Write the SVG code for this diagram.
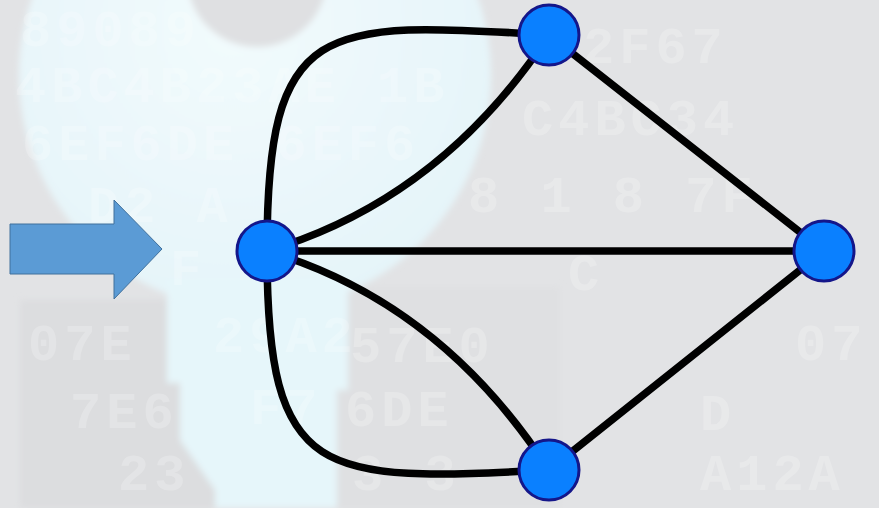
<svg xmlns="http://www.w3.org/2000/svg" width="879" height="508" viewBox="0 0 879 508">
  <defs>
    <filter id="soft" x="-10%" y="-10%" width="120%" height="120%">
      <feGaussianBlur stdDeviation="3"/>
    </filter>
    <radialGradient id="keyGlow" cx="0.45" cy="0.4" r="0.7">
      <stop offset="0" stop-color="#F2FBFD"/>
      <stop offset="1" stop-color="#E3F3F8"/>
    </radialGradient>
  </defs>
  <style>
    .hex { font-family: "Liberation Mono", "DejaVu Sans Mono", monospace; font-weight: bold; font-size: 52px; letter-spacing: 5px; fill: #FFFFFF; fill-opacity: 0.22; }
    .edge { fill: none; stroke: #000000; stroke-width: 7.5; stroke-linecap: round; }
    .node { fill: #0A80FF; stroke: #14168A; stroke-width: 3; }
    .arrow { fill: #5B9BD5; stroke: #41719C; stroke-width: 1; }
  </style>

  <!-- backdrop -->
  <rect x="0" y="0" width="879" height="508" fill="#E2E3E5"/>

  <g id="backdrop-key" filter="url(#soft)">
    <!-- slightly darker tooth blocks beside the shaft -->
    <path d="M20,300 L167,300 L167,383 L180,383 L180,440 L215,490 L215,508 L20,508 Z" fill="#DCDDDF"/>
    <path d="M348,287 L560,287 L560,508 L337,508 L337,390 L348,390 Z" fill="#DFE0E2"/>
    <!-- key head and shaft -->
    <circle cx="255" cy="75" r="236" fill="url(#keyGlow)"/>
    <path d="M167,280 L348,280 L348,390 L337,390 L337,508 L215,508 L215,490 L180,440 L180,383 L167,383 Z" fill="#E6F6FA"/>
    <!-- hole of the key head -->
    <circle cx="257" cy="-23" r="70" fill="#DFE0E2"/>
  </g>

  <!-- hexadecimal backdrop text -->
  <g id="backdrop-text">
    <text class="hex" x="20" y="46">89089</text>
    <text class="hex" x="15" y="102">4BC4B23AE 1B</text>
    <text class="hex" x="22" y="160">6EF6DE 6EF6</text>
    <text class="hex" x="88" y="222">D2  A</text>
    <text class="hex" x="170" y="285">F</text>
    <text class="hex" x="28" y="360">07E</text>
    <text class="hex" x="213" y="352">29A2</text>
    <text class="hex" x="350" y="362">57E0</text>
    <text class="hex" x="70" y="428">7E6</text>
    <text class="hex" x="250" y="424">F7</text>
    <text class="hex" x="345" y="426">6DE</text>
    <text class="hex" x="118" y="490">23</text>
    <text class="hex" x="352" y="490">3  3</text>
    <text class="hex" x="583" y="63">2F67</text>
    <text class="hex" x="522" y="135">C4BC34</text>
    <text class="hex" x="468" y="212">8 1 8  7F</text>
    <text class="hex" x="568" y="290">C</text>
    <text class="hex" x="795" y="360">07</text>
    <text class="hex" x="700" y="430">D</text>
    <text class="hex" x="700" y="490">A12A</text>
  </g>

  <!-- block arrow pointing at the graph -->
  <g id="pointer">
    <path class="arrow" d="M10,224 L114,224 L114,200 L162,249 L114,299 L114,274 L10,274 Z"/>
  </g>

  <!-- connectors -->
  <g id="edges">
    <path class="edge" d="M267,251 C267,20 320,20 549,35"/>
    <path class="edge" d="M267,251 Q440,200 549,35"/>
    <path class="edge" d="M267,251 L824,251"/>
    <path class="edge" d="M267,251 Q440,302 549,470"/>
    <path class="edge" d="M267,251 C267,482 320,482 549,470"/>
    <path class="edge" d="M549,35 L824,251"/>
    <path class="edge" d="M549,470 L824,251"/>
  </g>

  <!-- nodes -->
  <g id="node-left"><circle class="node" cx="267" cy="251" r="30"/></g>
  <g id="node-top"><circle class="node" cx="549" cy="35" r="30"/></g>
  <g id="node-right"><circle class="node" cx="824" cy="251" r="30"/></g>
  <g id="node-bottom"><circle class="node" cx="549" cy="470" r="30"/></g>
</svg>
